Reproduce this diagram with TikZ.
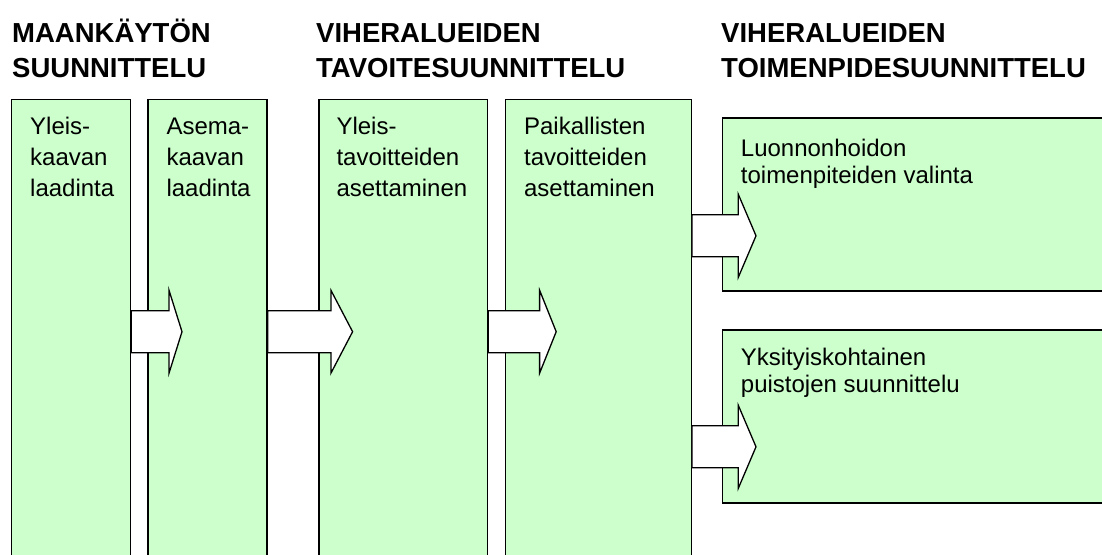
\documentclass[tikz,border=0pt]{standalone}
\usepackage{fontspec}
\setmainfont{Liberation Sans}
\usetikzlibrary{calc,positioning}
\definecolor{stagegreen}{HTML}{CCFFCC}
\tikzset{
  stage/.style     = {draw, fill=stagegreen, rectangle, anchor=north west,
                      inner sep=0pt, line width=1.3pt},
  tall/.style      = {stage, minimum width=119pt, minimum height=480pt},
  wide/.style      = {stage, minimum width=420pt, minimum height=173pt},
  heading/.style   = {anchor=base west, inner sep=0pt, align=left,
                      font=\fontsize{27.5}{35}\selectfont\bfseries},
  stagetext/.style = {anchor=base west, inner sep=0pt, align=left,
                      font=\fontsize{24}{31}\selectfont},
  widetext/.style  = {stagetext, font=\fontsize{24}{27}\selectfont},
  flow/.style      = {draw, fill=white, line width=1.3pt, line join=miter}
}
% block arrow: from node, to node, centre y, neck and tip offset from the target
\newcommand{\flowarrow}[5]{%
  \coordinate (tail) at (#1.east |- 0,#3);
  \coordinate (neck) at ($(#2.west |- 0,#3)+(#4,0)$);
  \coordinate (tip)  at ($(#2.west |- 0,#3)+(#5,0)$);
  \draw[flow] ($(tail)+(0,-21)$) -- ($(neck)+(0,-21)$) -- ($(neck)+(0,-41.5)$)
    -- (tip) -- ($(neck)+(0,41.5)$) -- ($(neck)+(0,21)$) -- ($(tail)+(0,21)$) -- cycle;
}
\begin{document}
\begin{tikzpicture}[x=1pt, y=-1pt]
  \useasboundingbox (0,0) rectangle (1102,554);

  % phase headings (placed at the baseline of their last line)
  \node[heading] (h1) at (12,77)  {MAANKÄYTÖN\\SUUNNITTELU};
  \node[heading] (h2) at (316,77) {VIHERALUEIDEN\\TAVOITESUUNNITTELU};
  \node[heading] (h3) at (721,77) {VIHERALUEIDEN\\TOIMENPIDESUUNNITTELU};

  % tall stage boxes
  \node[tall] (b1) at (11,98.7) {};
  \node[tall, right=16pt of b1] (b2) {};
  \node[tall, right=50.7pt of b2, minimum width=168.6pt] (b3) {};
  \node[tall, right=16.7pt of b3, minimum width=185.7pt] (b4) {};

  % the two output boxes
  \node[wide] (b5) at (721.7,117.3) {};
  \node[wide] (b6) at (721.7,329.3) {};

  % box texts
  \node[stagetext] (t1) at ([xshift=19pt,yshift=-97.5pt]b1.north west) {Yleis-\\kaavan\\laadinta};
  \node[stagetext] (t2) at ([xshift=19pt,yshift=-97.5pt]b2.north west) {Asema-\\kaavan\\laadinta};
  \node[stagetext] (t3) at ([xshift=18pt,yshift=-97.5pt]b3.north west) {Yleis-\\tavoitteiden\\asettaminen};
  \node[stagetext] (t4) at ([xshift=19pt,yshift=-97.5pt]b4.north west) {Paikallisten\\tavoitteiden\\asettaminen};
  \node[widetext] (t5) at ([xshift=19pt,yshift=-66pt]b5.north west) {Luonnonhoidon\\toimenpiteiden valinta};
  \node[widetext] (t6) at ([xshift=19pt,yshift=-63pt]b6.north west) {Yksityiskohtainen\\puistojen suunnittelu};

  % arrows between the stages
  \flowarrow{b1}{b2}{331.7}{21.7}{34.7}
  \flowarrow{b2}{b3}{331.7}{12.6}{34.3}
  \flowarrow{b3}{b4}{331.7}{34.7}{51.3}
  \flowarrow{b4}{b5}{235.8}{16.6}{34.3}
  \flowarrow{b4}{b6}{446.8}{16.6}{34.3}
\end{tikzpicture}
\end{document}
